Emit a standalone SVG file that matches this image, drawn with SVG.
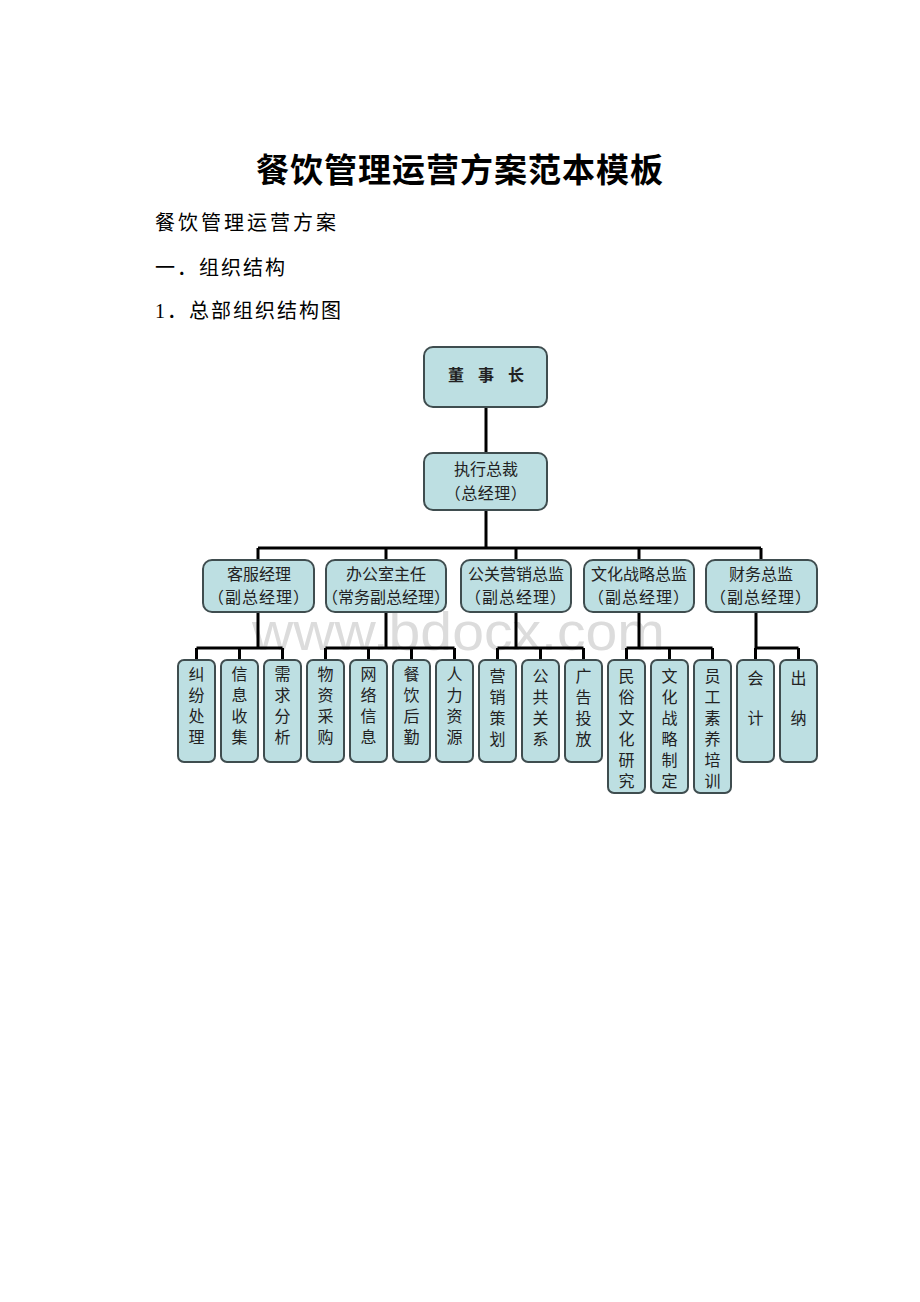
<svg xmlns="http://www.w3.org/2000/svg" width="920" height="1302" viewBox="0 0 920 1302">
<style>
.bg{fill:#ffffff}
.doc{font-family:"Liberation Serif","Noto Sans CJK SC",serif;fill:#000}
.box{fill:#bddfe2;stroke:#3f4d4f;stroke-width:2}
.t{font-family:"Noto Sans CJK SC",sans-serif;font-size:16px;fill:#222;text-anchor:middle;dominant-baseline:central}
.s{font-size:16px;letter-spacing:1px}
.v{font-family:"Noto Sans CJK SC",sans-serif;font-size:16px;fill:#222;writing-mode:vertical-rl;letter-spacing:5px}
.c{fill:none;stroke:#000;stroke-width:3}
.wm{font-family:"Liberation Sans",Arial,sans-serif;font-size:54px;fill:#dcdcdc}
</style>
<rect class="bg" x="0" y="0" width="920" height="1302"/>
<text class="doc" x="460" y="182" font-size="33" font-weight="bold" text-anchor="middle" letter-spacing="1">餐饮管理运营方案范本模板</text>
<text class="doc" x="155" y="230" font-size="20" letter-spacing="3">餐饮管理运营方案</text>
<text class="doc" x="155" y="275" font-size="20" letter-spacing="2">一．组织结构</text>
<text class="doc" x="155" y="318" font-size="20" letter-spacing="2">1．总部组织结构图</text>
<text class="wm" x="252" y="650" textLength="413" lengthAdjust="spacingAndGlyphs">www.bdocx.com</text>
<g id="connectors">
<path class="c" d="M486 407V453" stroke-width="4"/>
<path class="c" d="M486 510V548" stroke-width="4"/>
<path class="c" d="M258 548H761M258 548V560M386 548V560M516 548V560M639 548V560M761 548V560"/>
<path class="c" d="M258 612V648M196.5 648H282.5M196.5 648V660M239.5 648V660M282.5 648V660"/>
<path class="c" d="M386 612V648M325.5 648H454.5M325.5 648V660M368.5 648V660M411.5 648V660M454.5 648V660"/>
<path class="c" d="M516 612V648M497.5 648H583.5M497.5 648V660M540.5 648V660M583.5 648V660"/>
<path class="c" d="M639 612V648M626.5 648H712.5M626.5 648V660M669.5 648V660M712.5 648V660"/>
<path class="c" d="M756 612V648M755.5 648H798.5M755.5 648V660M798.5 648V660"/>
</g>
<g id="n-chairman"><rect class="box" x="424" y="347" width="123" height="60" rx="9"/><text class="t" x="456 486 516" y="374" font-size="19" font-weight="bold">董事长</text></g>
<g id="n-ceo"><rect class="box" x="424" y="453" width="123" height="57" rx="9"/><text class="t" x="486" y="468">执行总裁</text><text class="t" x="486" y="492" letter-spacing="0.5">（总经理）</text></g>
<g id="n-kf"><rect class="box" x="203" y="560" width="111" height="52" rx="9"/><text class="t" x="259" y="573">客服经理</text><text class="t s" x="259" y="596">（副总经理）</text></g>
<g id="n-bgs"><rect class="box" x="326" y="560" width="120" height="52" rx="9"/><text class="t" x="386" y="573">办公室主任</text><text class="t" x="386" y="596" font-size="15">（常务副总经理）</text></g>
<g id="n-gg"><rect class="box" x="461" y="560" width="110" height="52" rx="9"/><text class="t" x="516" y="573">公关营销总监</text><text class="t s" x="516" y="596">（副总经理）</text></g>
<g id="n-wh"><rect class="box" x="584" y="560" width="110" height="52" rx="9"/><text class="t" x="639" y="573">文化战略总监</text><text class="t s" x="639" y="596">（副总经理）</text></g>
<g id="n-cw"><rect class="box" x="706" y="560" width="111" height="52" rx="9"/><text class="t" x="761" y="573">财务总监</text><text class="t s" x="761" y="596">（副总经理）</text></g>
<g id="l1"><rect class="box" x="178" y="660" width="37" height="102" rx="6"/><text class="v" x="196.5" y="666">纠纷处理</text></g>
<g id="l2"><rect class="box" x="221" y="660" width="37" height="102" rx="6"/><text class="v" x="239.5" y="666">信息收集</text></g>
<g id="l3"><rect class="box" x="264" y="660" width="37" height="102" rx="6"/><text class="v" x="282.5" y="666">需求分析</text></g>
<g id="l4"><rect class="box" x="307" y="660" width="37" height="102" rx="6"/><text class="v" x="325.5" y="666">物资采购</text></g>
<g id="l5"><rect class="box" x="350" y="660" width="37" height="102" rx="6"/><text class="v" x="368.5" y="666">网络信息</text></g>
<g id="l6"><rect class="box" x="393" y="660" width="37" height="102" rx="6"/><text class="v" x="411.5" y="666">餐饮后勤</text></g>
<g id="l7"><rect class="box" x="436" y="660" width="37" height="102" rx="6"/><text class="v" x="454.5" y="666">人力资源</text></g>
<g id="l8"><rect class="box" x="479" y="660" width="37" height="102" rx="6"/><text class="v" x="497.5" y="668">营销策划</text></g>
<g id="l9"><rect class="box" x="522" y="660" width="37" height="102" rx="6"/><text class="v" x="540.5" y="668">公共关系</text></g>
<g id="l10"><rect class="box" x="565" y="660" width="37" height="102" rx="6"/><text class="v" x="583.5" y="668">广告投放</text></g>
<g id="l11"><rect class="box" x="608" y="660" width="37" height="133" rx="6"/><text class="v" x="626.5" y="668" letter-spacing="4.6">民俗文化研究</text></g>
<g id="l12"><rect class="box" x="651" y="660" width="37" height="133" rx="6"/><text class="v" x="669.5" y="668" letter-spacing="4.6">文化战略制定</text></g>
<g id="l13"><rect class="box" x="694" y="660" width="37" height="133" rx="6"/><text class="v" x="712.5" y="668" letter-spacing="4.6">员工素养培训</text></g>
<g id="l14"><rect class="box" x="737" y="660" width="37" height="102" rx="6"/><text class="t" x="755.5" y="677">会</text><text class="t" x="755.5" y="717">计</text></g>
<g id="l15"><rect class="box" x="780" y="660" width="37" height="102" rx="6"/><text class="t" x="798.5" y="677">出</text><text class="t" x="798.5" y="717">纳</text></g>
</svg>
